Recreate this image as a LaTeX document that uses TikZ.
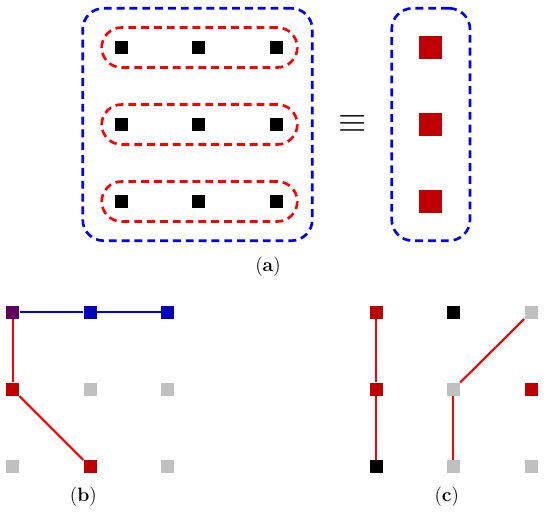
\documentclass[tikz,border=0pt]{standalone}
\usepackage{tikz}
\usetikzlibrary{positioning}
\usepackage{xcolor}
\definecolor{grouped}{HTML}{0000FF}
\definecolor{paired}{HTML}{FF0000}
\definecolor{qred}{HTML}{C00000}
\definecolor{qblue}{HTML}{0000C0}
\definecolor{qpurple}{HTML}{600060}
\definecolor{qgray}{HTML}{C0C0C0}

\begin{document}
\begin{tikzpicture}[
    qubit/.style={draw=none, fill=black, minimum size=0.26cm, inner sep=0pt},
    big qubit/.style={draw=none, fill=qred, minimum size=0.46cm, inner sep=0pt},
    register/.style={draw=grouped, line width=1.5pt, dash pattern=on 4.5pt off 2.8pt, rounded corners=0.42cm, minimum height=4.648cm, inner sep=0pt},
    pair/.style={draw=paired, line width=1.5pt, dash pattern=on 4.5pt off 2.8pt, rounded corners=0.4cm, minimum width=3.912cm, minimum height=0.8cm, inner sep=0pt},
    red link/.style={draw=paired, line width=1.2pt},
    blue link/.style={draw=grouped, line width=1.2pt},
    caption/.style={font=\fontsize{11}{13}\selectfont},
]

\useasboundingbox (0,0) rectangle (11,10.24);

% (a) Outer register
\node[register, minimum width=4.592cm] (reg) at (3.95, 7.75) {};

% Row groups and their qubits
\foreach \r/\y in {1/9.29, 2/7.75, 3/6.21} {
    \node[pair] (row\r) at (3.99, \y) {};
    \foreach \c/\x in {1/2.42, 2/3.966, 3/5.52}
        \node[qubit] (a\r\c) at (\x, \y) {};
}

% Equivalence
\node[font=\huge] (equiv) at (7.06, 7.76) {$\equiv$};

% Compressed register
\node[register, minimum width=1.566cm] (creg) at (8.617, 7.75) {};
\foreach \r/\y in {1/9.29, 2/7.75, 3/6.21}
    \node[big qubit] (c\r) at (8.616, \y) {};

\node[caption] (capa) at (5.36, 4.9) {(\textbf{a})};

% (b) Grid
\foreach \n/\x/\y/\col in {b11/0.254/3.994/qpurple, b12/1.8/3.994/qblue, b13/3.354/3.994/qblue,
                           b21/0.254/2.454/qred, b22/1.8/2.454/qgray, b23/3.354/2.454/qgray,
                           b31/0.254/0.906/qgray, b32/1.8/0.906/qred, b33/3.354/0.906/qgray}
    \node[qubit, fill=\col] (\n) at (\x, \y) {};

\draw[blue link] (b11) -- (b12) -- (b13);
\draw[red link] (b11) -- (b21);
\draw[red link] (b21) -- (b32);

\node[caption] (capb) at (1.666, 0.306) {(\textbf{b})};

% (c) Grid
\foreach \n/\x/\y/\col in {g11/7.52/3.994/qred, g12/9.066/3.994/black, g13/10.62/3.994/qgray,
                           g21/7.52/2.454/qred, g22/9.066/2.454/qgray, g23/10.62/2.454/qred,
                           g31/7.52/0.906/black, g32/9.066/0.906/qgray, g33/10.62/0.906/qgray}
    \node[qubit, fill=\col] (\n) at (\x, \y) {};

\draw[red link] (g11) -- (g21) -- (g31);
\draw[red link] (g22) -- (g13);
\draw[red link] (g22) -- (g32);

\node[caption] (capc) at (8.934, 0.306) {(\textbf{c})};

\end{tikzpicture}
\end{document}
